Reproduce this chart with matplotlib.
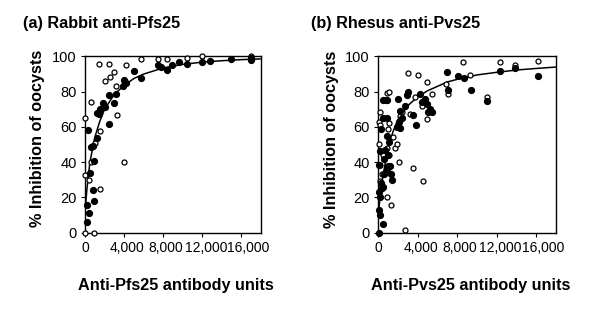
import matplotlib
matplotlib.use("Agg")
import matplotlib.pyplot as plt
from matplotlib.transforms import ScaledTranslation

plt.rcParams["font.family"] = ["Liberation Sans", "DejaVu Sans"]

# tick values / labels shared by both panels
x_ticks = [0, 4000, 8000, 12000, 16000]
x_tick_labels = ["0", "4,000", "8,000", "12,000", "16,000"]
y_ticks = [0, 20, 40, 60, 80, 100]

# (a) rabbit anti-Pfs25
a_filled_x = [170, 170, 374, 306, 544, 646, 816, 782, 952, 918, 1224, 1258, 1394, 1564,
              1802, 2074, 2482, 2414, 2924, 3162, 3842, 3944, 4182, 5032, 5712, 7514,
              7752, 8432, 8874, 9622, 10404, 12002, 12784, 14960, 17000, 17000]
a_filled_y = [15.6, 6, 10.8, 58, 33.6, 48.8, 49.3, 24, 40.6, 17.8, 53.5, 67.7, 67.4, 70,
              73.4, 71.2, 78.2, 61.7, 73.4, 78.7, 83.3, 86.7, 85.2, 91.5, 87.7, 94.9,
              94.3, 92.4, 95.3, 96.8, 95.8, 96.8, 97.7, 98.5, 98.9, 98.2]
a_open_x = [34, 34, 34, 374, 578, 646, 952, 1020, 1394, 1564, 1564, 2074, 2414, 2584,
            2992, 3162, 3264, 3944, 4182, 5712, 7514, 8432, 10404, 12002, 17000]
a_open_y = [64.9, 32.6, 0, 29.8, 40.2, 74.4, 0, 50.7, 95.6, 57.7, 24.7, 86.1, 95.6, 88.6,
            90.9, 83.3, 66.8, 40.2, 95.3, 98.5, 98.5, 98.5, 99.4, 100, 100]
a_curve_x = [0, 200, 500, 1000, 1500, 2000, 3000, 4000, 5000, 6000, 8000, 10000, 12000,
             14000, 16000, 17900]
a_curve_y = [12, 25, 40, 54, 63, 70, 78.5, 83.5, 87.5, 90, 93.5, 95.5, 96.8, 97.6, 98.2,
             98.6]

# (b) rhesus anti-Pvs25
b_filled_x = [67, 470, 67, 200, 200, 100, 400, 340, 540, 600, 940, 1210, 1350, 67, 1040,
              700, 600, 200, 940, 1150, 1950, 2220, 2090, 2220, 2390, 1990, 2730, 2970,
              3070, 3500, 3840, 4250, 4450, 4720, 4920, 5090, 5260, 5430, 540, 800, 540,
              340, 940, 940, 6940, 7110, 8120, 8730, 9370, 10990, 12330, 13850, 16210,
              1040, 1380]
b_filled_y = [0, 5, 13, 10, 20, 23, 25, 28, 26, 33, 36, 37.5, 33, 38.5, 44, 47, 42, 46.5,
              55, 51.5, 60, 59.5, 63, 69, 65, 75.6, 72, 78, 79.7, 66.6, 61, 78.8, 74, 76,
              73, 68.5, 70, 68.5, 75, 75, 65, 59, 65, 75, 91, 81, 88.7, 88, 81, 74.7, 92,
              93.4, 89, 37.5, 30]
b_open_x = [67, 200, 200, 470, 940, 1150, 1040, 1150, 130, 200, 470, 940, 1150, 370, 200,
            940, 1280, 1720, 1890, 2160, 2220, 3230, 3070, 4000, 3570, 4520, 2760, 3740,
            4410, 4920, 4990, 5430, 6840, 7040, 8630, 9300, 10990, 12330, 13850, 16140,
            2390, 1550]
b_open_y = [63, 68.5, 61, 65, 79, 80, 59, 62, 50, 38.5, 44, 48, 44, 33, 29, 20, 15.6, 48,
            50, 40, 66, 67.5, 90.4, 89.7, 36.6, 29, 1.3, 77, 72, 85.4, 64.7, 78.8, 84.4,
            78.4, 96.6, 89.5, 77, 97, 95, 97.5, 68.5, 54]
b_curve_x = [0, 250, 500, 1000, 1500, 2000, 3000, 4000, 5000, 6000, 7000, 8000, 10000,
             12000, 14000, 16000, 18000]
b_curve_y = [9, 22, 32, 48, 57, 64, 72, 77, 80.5, 83, 85.5, 87, 89.5, 91, 92.3, 93.2, 94]

# x tick labels sit a little right of their ticks and butt up against each other
label_shift_px = [0, 3, 3, 3.5, 7]


def draw_panel(ax, fx, fy, ox, oy, cx, cy):
    ax.plot(cx, cy, color="black", lw=1.1, zorder=2)
    ax.plot(ox, oy, "o", ms=3.6, mfc="white", mec="black", mew=0.9, ls="none",
            zorder=3, clip_on=False)
    ax.plot(fx, fy, "o", ms=4.2, color="black", ls="none", zorder=4, clip_on=False)
    ax.set_xlim(0, 18000)
    ax.set_ylim(0, 100)
    ax.set_xticks(x_ticks)
    ax.set_xticklabels(x_tick_labels)
    ax.set_yticks(y_ticks)
    ax.tick_params(direction="out", length=3, width=0.8, labelsize=10, pad=3,
                   colors="black")
    ax.tick_params(axis="y", labelsize=10.5)
    for lab, dx in zip(ax.get_xticklabels(), label_shift_px):
        lab.set_transform(lab.get_transform() +
                          ScaledTranslation(dx / 100, 0, ax.figure.dpi_scale_trans))
    for s in ax.spines.values():
        s.set_linewidth(1.0)
        s.set_color("black")


fig = plt.figure(figsize=(6, 3.11), dpi=100)

ax_a = fig.add_axes([0.1417, 0.2524, 0.2933, 0.566])
draw_panel(ax_a, a_filled_x, a_filled_y, a_open_x, a_open_y, a_curve_x, a_curve_y)

ax_b = fig.add_axes([0.63, 0.2524, 0.2967, 0.566])
draw_panel(ax_b, b_filled_x, b_filled_y, b_open_x, b_open_y, b_curve_x, b_curve_y)

bold = dict(fontsize=11.7, fontweight="bold")
fig.text(0.038, 0.91, "(a) Rabbit anti-Pfs25", va="baseline", **bold)
fig.text(0.518, 0.91, "(b) Rhesus anti-Pvs25", va="baseline", **bold)
fig.text(0.293, 0.0836, "Anti-Pfs25 antibody units", ha="center", va="center", **bold)
fig.text(0.785, 0.0836, "Anti-Pvs25 antibody units", ha="center", va="center", **bold)
fig.text(0.062, 0.555, "% Inhibition of oocysts", rotation=90, ha="center", va="center",
         **bold)
fig.text(0.553, 0.553, "% Inhibition of oocysts", rotation=90, ha="center", va="center",
         **bold)

fig.savefig("out.png", dpi=100)
